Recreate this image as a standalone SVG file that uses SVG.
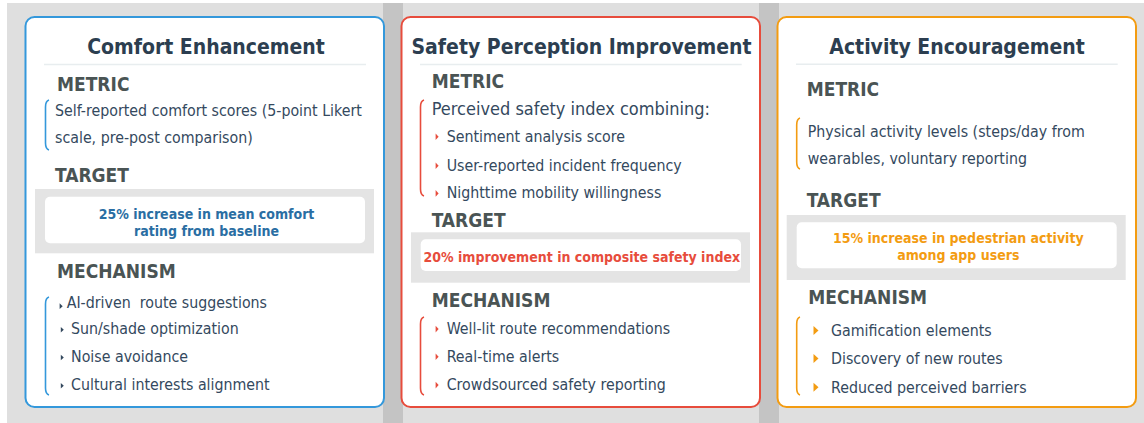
<svg xmlns="http://www.w3.org/2000/svg" width="1144" height="423" viewBox="0 0 1144 423">
<style>
text{font-family:"DejaVu Sans Condensed","DejaVu Sans",sans-serif;font-stretch:condensed}
.title{font-size:21px;font-weight:bold;fill:#2c3e50;text-anchor:middle}
.lbl{font-size:19px;font-weight:bold;fill:#4a5454}
.body{font-size:15.8px;fill:#34495e}
.big{font-size:18px;fill:#34495e}
.tgt{font-size:14px;font-weight:bold;text-anchor:middle}
.panel{fill:#ffffff;stroke-width:2}
.sep{stroke:#e8edef;stroke-width:1.5}
.tbox{fill:#e4e4e4}
.tin{fill:#ffffff}
.br{fill:none;stroke-width:1.6}
</style>
<rect x="0" y="0" width="1144" height="423" fill="#ffffff"/>
<rect x="7" y="3" width="1137" height="420" fill="#dfdfdf"/>
<rect x="383" y="3" width="20" height="420" fill="#c4c4c4"/>
<rect x="759" y="3" width="20" height="420" fill="#c4c4c4"/>

<g id="comfort">
<rect class="panel" x="25.5" y="17" width="358.5" height="390" rx="9" stroke="#3498db"/>
<text class="title" x="206" y="54">Comfort Enhancement</text>
<line class="sep" x1="44" y1="64.5" x2="366" y2="64.5"/>
<text class="lbl" x="57" y="91">METRIC</text>
<path class="br" stroke="#3498db" d="M49 100 Q45.5 101 45.5 107 L45.5 143 Q45.5 149 49 150"/>
<text class="body" x="55" y="115.7">Self-reported comfort scores (5-point Likert</text>
<text class="body" x="55" y="143">scale, pre-post comparison)</text>
<text class="lbl" x="55" y="181.7">TARGET</text>
<rect class="tbox" x="35" y="189" width="339" height="64.3"/>
<rect class="tin" x="45" y="196.7" width="320" height="46.6" rx="5"/>
<text class="tgt" x="206.5" y="218.5" fill="#2a6ea3">25% increase in mean comfort</text>
<text class="tgt" x="206.5" y="236" fill="#2a6ea3">rating from baseline</text>
<text class="lbl" x="57" y="278.3">MECHANISM</text>
<path class="br" stroke="#3498db" d="M49 297 Q45.5 298 45.5 304 L45.5 388 Q45.5 394 49 395"/>
<g fill="#34495e">
<polygon points="59.6,303.3 62.7,306.2 59.6,309"/>
<polygon points="60.8,327 63.8,329.8 60.8,332.6"/>
<polygon points="60.8,354.7 63.8,357.5 60.8,360.3"/>
<polygon points="60.8,383 63.8,385.8 60.8,388.6"/>
</g>
<text class="body" x="66.7" y="308.3" xml:space="preserve">AI-driven  route suggestions</text>
<text class="body" x="71" y="334">Sun/shade optimization</text>
<text class="body" x="71" y="361.7">Noise avoidance</text>
<text class="body" x="71" y="390">Cultural interests alignment</text>
</g>

<g id="safety">
<rect class="panel" x="401.5" y="17" width="358.5" height="390" rx="9" stroke="#e74c3c"/>
<text class="title" x="581.5" y="54">Safety Perception Improvement</text>
<line class="sep" x1="420" y1="64.5" x2="741.7" y2="64.5"/>
<text class="lbl" x="431.7" y="88.3">METRIC</text>
<path class="br" stroke="#e74c3c" d="M424 100 Q420.5 101 420.5 107 L420.5 189 Q420.5 195 424 196"/>
<text class="big" x="431.7" y="115">Perceived safety index combining:</text>
<g fill="#e74c3c">
<polygon points="435.6,133.5 438.6,136.8 435.6,140.1"/>
<polygon points="435.6,162.5 438.6,165.8 435.6,169.1"/>
<polygon points="435.6,190.1 438.6,193.4 435.6,196.7"/>
<polygon points="435.6,325.8 438.6,329.1 435.6,332.4"/>
<polygon points="435.6,353.5 438.6,356.8 435.6,360.1"/>
<polygon points="435.6,381.8 438.6,385.1 435.6,388.4"/>
</g>
<text class="body" x="446.7" y="141.7">Sentiment analysis score</text>
<text class="body" x="446.7" y="170.7">User-reported incident frequency</text>
<text class="body" x="446.7" y="198.3">Nighttime mobility willingness</text>
<text class="lbl" x="431.7" y="227.3">TARGET</text>
<rect class="tbox" x="411" y="232.3" width="339" height="50.4"/>
<rect class="tin" x="420.7" y="239.3" width="320.3" height="31.7" rx="5"/>
<text class="tgt" x="581.8" y="261.7" fill="#e74c3c">20% improvement in composite safety index</text>
<text class="lbl" x="431.7" y="306.7">MECHANISM</text>
<path class="br" stroke="#e74c3c" d="M424 317 Q420.5 318 420.5 324 L420.5 388 Q420.5 394 424 395"/>
<text class="body" x="446.7" y="334">Well-lit route recommendations</text>
<text class="body" x="446.7" y="361.7">Real-time alerts</text>
<text class="body" x="446.7" y="390">Crowdsourced safety reporting</text>
</g>

<g id="activity">
<rect class="panel" x="777.5" y="17" width="358.5" height="390" rx="9" stroke="#f39c12"/>
<text class="title" x="957" y="54">Activity Encouragement</text>
<line class="sep" x1="796" y1="64.3" x2="1117.7" y2="64.3"/>
<text class="lbl" x="806.7" y="96">METRIC</text>
<path class="br" stroke="#f39c12" d="M800 118 Q796.7 119 796.7 125 L796.7 162 Q796.7 168 800 169"/>
<text class="body" x="807.7" y="137.3">Physical activity levels (steps/day from</text>
<text class="body" x="807.7" y="164">wearables, voluntary reporting</text>
<text class="lbl" x="806.7" y="207.3">TARGET</text>
<rect class="tbox" x="786.7" y="215" width="339" height="65"/>
<rect class="tin" x="796.7" y="222.3" width="320" height="46" rx="5"/>
<text class="tgt" x="958.3" y="243.3" fill="#f39c12">15% increase in pedestrian activity</text>
<text class="tgt" x="958.3" y="260" fill="#f39c12">among app users</text>
<text class="lbl" x="808.3" y="304">MECHANISM</text>
<path class="br" stroke="#f39c12" d="M800 317 Q796.7 318 796.7 324 L796.7 388 Q796.7 394 800 395"/>
<g fill="#f39c12">
<polygon points="813.5,326 818.5,330.5 813.5,335"/>
<polygon points="813.5,354 818.5,358.5 813.5,363"/>
<polygon points="813.5,382.7 818.5,387.2 813.5,391.7"/>
</g>
<text class="body" x="831" y="336">Gamification elements</text>
<text class="body" x="831" y="364">Discovery of new routes</text>
<text class="body" x="831" y="392.7">Reduced perceived barriers</text>
</g>
</svg>
